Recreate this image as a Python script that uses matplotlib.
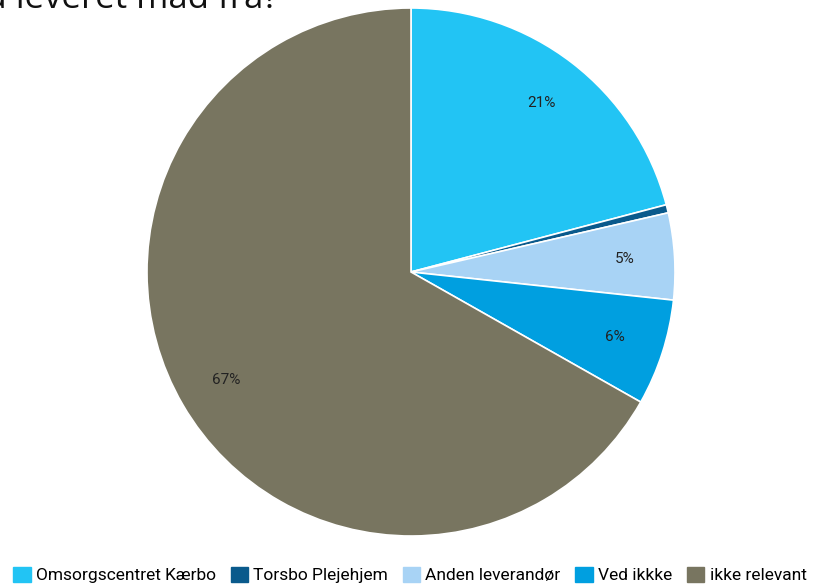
import matplotlib
matplotlib.use("Agg")
import matplotlib.pyplot as plt
from matplotlib.patches import Patch

categories = ["Omsorgscentret Kærbo", "Torsbo Plejehjem", "Anden leverandør", "Ved ikkke", "ikke relevant"]
values = [20.9, 0.5, 5.3, 6.5, 66.8]
colors = ["#22C4F4", "#0A5A8C", "#A8D3F5", "#009FE0", "#787560"]
title = "Hvem får du leveret mad fra?"

plt.rcParams['font.family'] = ['Roboto', 'DejaVu Sans']

W, H = 815, 588
fig = plt.figure(figsize=(W / 100, H / 100), dpi=100)
cx, cy, r = 411, 272, 264
ax = fig.add_axes([(cx - r) / W, (H - cy - r) / H, 2 * r / W, 2 * r / H])

def fmt(p):
    return f"{p:.0f}%" if p >= 1 else ""

wedges, texts, autotexts = ax.pie(
    values, colors=colors, startangle=90, counterclock=False,
    autopct=fmt, pctdistance=0.81, radius=1,
    wedgeprops=dict(edgecolor="white", linewidth=1.2),
    textprops=dict(fontsize=11, color="#222222"))
ax.set_xlim(-1, 1)
ax.set_ylim(-1, 1)
ax.set_aspect("equal")

fig.text(278 / W, 1 - 8 / H, title, ha="right", va="baseline", fontsize=25,
         color="#111111", family=["Open Sans", "DejaVu Sans"])

handles = [Patch(facecolor=c, edgecolor=c) for c in colors]
fig.legend(handles, categories, loc="center", bbox_to_anchor=(0.503, 13 / H), ncol=5,
           frameon=False, fontsize=12.5, handlelength=1.0, handleheight=1.0,
           handletextpad=0.3, columnspacing=0.85, borderaxespad=0)

fig.savefig("out.png", dpi=100)
